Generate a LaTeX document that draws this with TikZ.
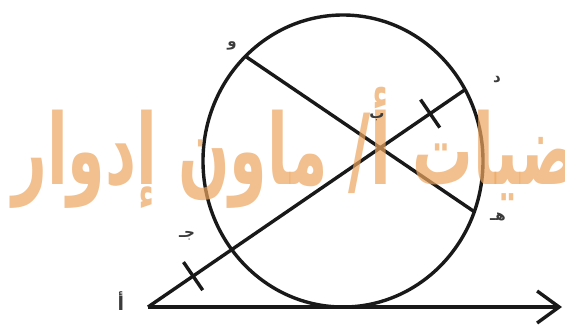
\documentclass[tikz,border=0pt]{standalone}
\usepackage{fontspec}
\newfontfamily\arabicfont[Script=Arabic]{DejaVu Sans}
\TeXXeTstate=1
\usetikzlibrary{arrows.meta,calc}
\definecolor{wm}{RGB}{236,165,95}
\definecolor{ink}{RGB}{25,25,25}
\begin{document}
\begin{tikzpicture}[x=1pt,y=-1pt,
  geo/.style={line width=3.4pt, draw=ink},
  tickmark/.style={line width=3.4pt, draw=ink},
  lbl/.style={font=\arabicfont\bfseries\fontsize{15}{15}\selectfont, text=ink!85, inner sep=0pt},
  wmark/.style={font=\arabicfont\bfseries\fontsize{56}{56}\selectfont, text=wm, opacity=0.7, inner sep=0pt}]
\useasboundingbox (0,0) rectangle (565,325);
\begin{scope}
\clip (0,0) rectangle (565,325);
% points
\coordinate (O) at (343,161);
\coordinate (A) at (148,307);
\coordinate (E) at (562,307);
\coordinate (C) at (231.5,249.8);
\coordinate (B) at (380,148);
\coordinate (D) at (465,89.7);
\coordinate (W) at (245,56);
\coordinate (H) at (474,211.5);
% circle
\draw[geo] (O) ellipse [x radius=140, y radius=146];
% tangent ray
\draw[geo, -{Straight Barb[length=22pt,width=32pt]}] (A) -- (E);
% secant and chord
\draw[geo] (A) -- (D);
\draw[geo] (W) -- (H);
% equal-length ticks
\coordinate (t1) at ($(A)!0.54!(C)$);
\coordinate (t2) at ($(B)!0.59!(D)$);
\draw[tickmark] ($(t1)!17pt!90:(C)$) -- ($(t1)!17pt!-90:(C)$);
\draw[tickmark] ($(t2)!17pt!90:(D)$) -- ($(t2)!17pt!-90:(D)$);
% watermark
\node[wmark, anchor=base west] (wmk) at (12,184) {\scalebox{1.08}[1.75]{\beginR رياضيات أ/ ماون إدوار\endR}};
% labels
\node[lbl, font=\arabicfont\bfseries\fontsize{19}{19}\selectfont] (lA) at (121,301) {\beginR أ\endR};
\node[lbl] (lC) at (187,236) {\beginR جـ\endR};
\node[lbl] (lB) at (377,117) {\beginR ب\endR};
\node[lbl] (lD) at (497,80) {\beginR د\endR};
\node[lbl] (lW) at (232,46) {\beginR و\endR};
\node[lbl] (lH) at (498,217) {\beginR هـ\endR};
\end{scope}
\end{tikzpicture}
\end{document}
